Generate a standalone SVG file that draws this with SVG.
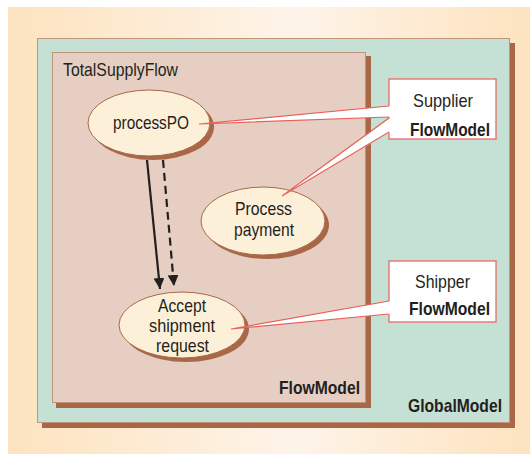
<svg xmlns="http://www.w3.org/2000/svg" width="530" height="454" viewBox="0 0 530 454">
<defs>
<linearGradient id="bg" x1="0" y1="0" x2="1" y2="0">
<stop offset="0" stop-color="#fde3bf"/>
<stop offset="0.55" stop-color="#fdf4e9"/>
<stop offset="1" stop-color="#fde3bf"/>
</linearGradient>
<marker id="ah" markerWidth="13" markerHeight="12" refX="11" refY="5.5" orient="auto" markerUnits="userSpaceOnUse">
<path d="M0,0 L11,5.5 L0,11 Z" fill="#231f20"/>
</marker>
</defs>
<style>
text{font-family:"Liberation Sans Narrow","Liberation Sans",Arial,sans-serif;fill:#231f20;font-size:19px}
.b{font-weight:bold}
.sh{fill:#a86848}
.el{fill:#fdf0d9;stroke:#a86848;stroke-width:1}
.box{fill:#fff;stroke:#e8605a;stroke-width:1.2}
.wf{fill:#fff;stroke:none}
.ws{fill:none;stroke:#e8605a;stroke-width:1.2}
</style>
<rect x="8" y="7" width="522" height="447" fill="url(#bg)"/>
<g id="GlobalModel">
<rect class="sh" x="42" y="43" width="473" height="385"/>
<rect x="37.5" y="38.5" width="472" height="384" fill="#c5e0d5" stroke="#c0957a" stroke-width="1"/>
<text class="b" x="408" y="412" textLength="94" lengthAdjust="spacingAndGlyphs">GlobalModel</text>
</g>
<g id="FlowModel">
<rect class="sh" x="56" y="56" width="315" height="352"/>
<rect x="52.5" y="52.5" width="313" height="350" fill="#e6cfc2" stroke="#c0957a" stroke-width="1"/>
<text class="b" x="279" y="394" textLength="81" lengthAdjust="spacingAndGlyphs">FlowModel</text>
<text x="63" y="76" textLength="115" lengthAdjust="spacingAndGlyphs">TotalSupplyFlow</text>
</g>
<g id="processPO">
<ellipse class="sh" cx="153" cy="127" rx="61" ry="33"/>
<ellipse class="el" cx="149" cy="123" rx="61" ry="33"/>
<text x="113" y="129" textLength="76" lengthAdjust="spacingAndGlyphs">processPO</text>
</g>
<g id="ProcessPayment">
<ellipse class="sh" cx="267" cy="225" rx="62" ry="34"/>
<ellipse class="el" cx="263" cy="221" rx="62" ry="34"/>
<text x="235" y="215" textLength="57" lengthAdjust="spacingAndGlyphs">Process</text>
<text x="234" y="236" textLength="60" lengthAdjust="spacingAndGlyphs">payment</text>
</g>
<g id="AcceptShipment">
<ellipse class="sh" cx="186" cy="329" rx="63" ry="33"/>
<ellipse class="el" cx="182" cy="325" rx="63" ry="33"/>
<text x="158" y="312" textLength="48" lengthAdjust="spacingAndGlyphs">Accept</text>
<text x="149" y="332" textLength="66" lengthAdjust="spacingAndGlyphs">shipment</text>
<text x="156" y="352" textLength="53" lengthAdjust="spacingAndGlyphs">request</text>
</g>
<g id="Supplier">
<rect class="box" x="389" y="79" width="107" height="60"/>
<text x="413" y="107" textLength="60" lengthAdjust="spacingAndGlyphs">Supplier</text>
<text class="b" x="410" y="136" textLength="80" lengthAdjust="spacingAndGlyphs">FlowModel</text>
</g>
<g id="Shipper">
<rect class="box" x="389" y="261" width="107" height="61"/>
<text x="415" y="288" textLength="55" lengthAdjust="spacingAndGlyphs">Shipper</text>
<text class="b" x="409" y="315" textLength="81" lengthAdjust="spacingAndGlyphs">FlowModel</text>
</g>
<g id="connectors">
<line x1="147" y1="160" x2="160" y2="289" stroke="#231f20" stroke-width="2.2" marker-end="url(#ah)"/>
<line x1="163" y1="160" x2="174" y2="286" stroke="#231f20" stroke-width="2.2" stroke-dasharray="8,5" marker-end="url(#ah)"/>
<polygon class="wf" points="199,124 390,106 390,117"/>
<path class="ws" d="M389,106 L199,124 L389,117"/>
<polygon class="wf" points="282,196 390,118 390,132"/>
<path class="ws" d="M389,118 L282,196 L389,132"/>
<polygon class="wf" points="231,329 390,301 390,314"/>
<path class="ws" d="M389,301 L231,329 L389,314"/>
</g>
</svg>
